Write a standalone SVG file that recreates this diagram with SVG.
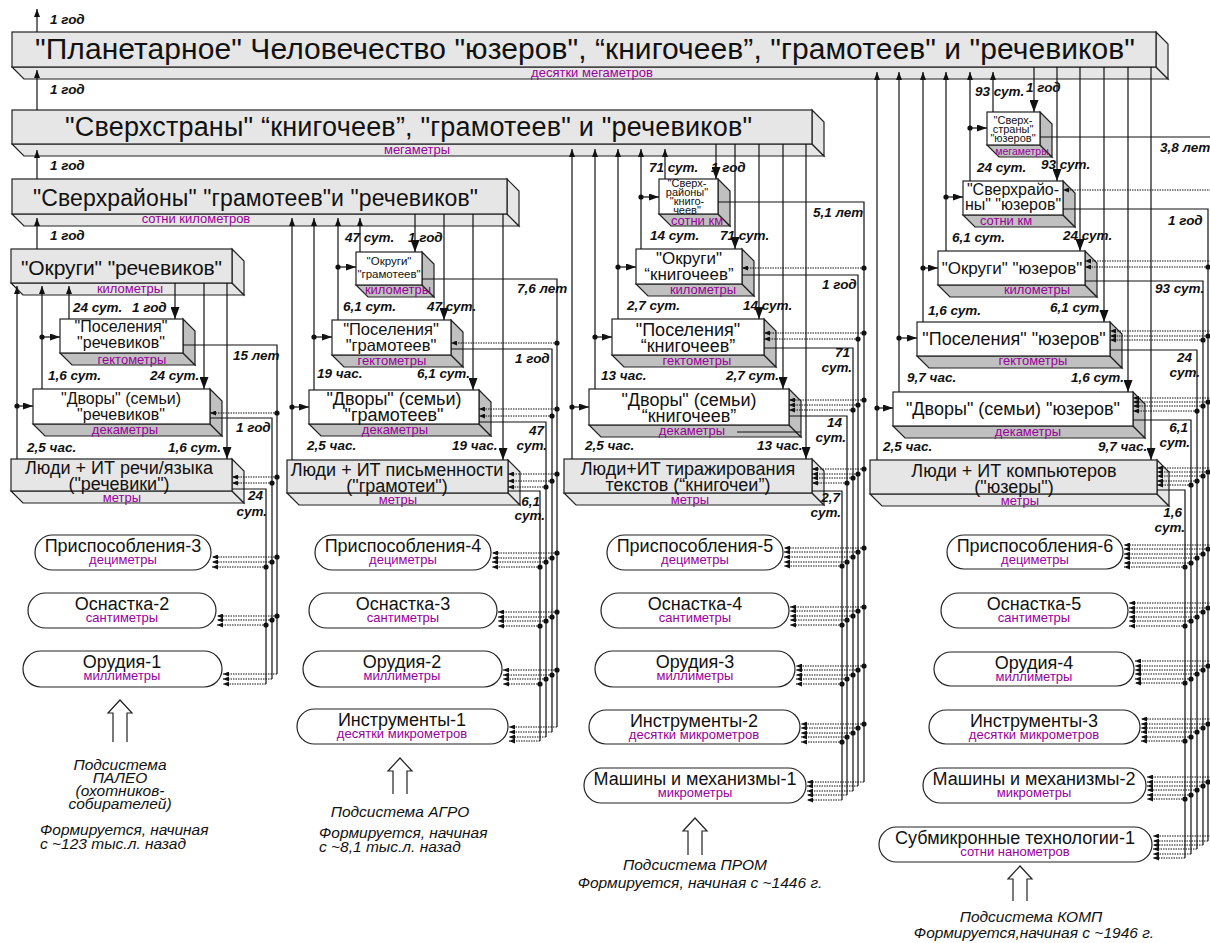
<svg xmlns="http://www.w3.org/2000/svg" width="1210" height="943" viewBox="0 0 1210 943">
<defs>
<marker id="mu" viewBox="0 0 8 6" refX="8" refY="3" markerWidth="8" markerHeight="6" markerUnits="userSpaceOnUse" orient="auto"><path d="M0,0L8,3L0,6z" fill="#111"/></marker>
<marker id="mb" viewBox="0 0 12 9" refX="12" refY="4.5" markerWidth="12" markerHeight="9" markerUnits="userSpaceOnUse" orient="auto"><path d="M0,0L12,4.5L0,9z" fill="#111"/></marker>
<marker id="mr" viewBox="0 0 10 7" refX="10" refY="3.5" markerWidth="10" markerHeight="7" markerUnits="userSpaceOnUse" orient="auto"><path d="M0,0L10,3.5L0,7z" fill="#111"/></marker>
<marker id="md" viewBox="0 0 6 5" refX="6" refY="2.5" markerWidth="6" markerHeight="5" markerUnits="userSpaceOnUse" orient="auto"><path d="M0,0L6,2.5L0,5z" fill="#111"/></marker>
</defs>
<style>
.g{fill:#e6e6e6;stroke:#222;stroke-width:1.2}
.w{fill:#fff;stroke:#222;stroke-width:1.2}
.s{fill:#c0c0c0;stroke:#222;stroke-width:1.2}
.pl{fill:#fff;stroke:#222;stroke-width:1.2}
text{font-family:"Liberation Sans",Arial,sans-serif;fill:#111}
.c{text-anchor:middle}
.un{font-size:13px;fill:#990099;text-anchor:middle}
.lb{font-size:13.5px;font-weight:bold;font-style:italic}
.e{text-anchor:end}
.ss{font-size:15.5px;font-style:italic}
.ln{stroke:#111;stroke-width:1.2;fill:none}
.up{marker-end:url(#mu)}
.dn{marker-end:url(#mb)}
.rt{marker-end:url(#mr)}
.d{stroke:#111;stroke-width:1;stroke-dasharray:1.5 1;fill:none;marker-end:url(#md)}
.dot{fill:#111}
.ha{fill:none;stroke:#222;stroke-width:1.2}
</style>
<rect x="0" y="0" width="1210" height="943" fill="#fff"/>

<!-- big level bars -->
<g id="n-planet">
<polygon class="g" points="12,67 1156,67 1168,79 24,79"/>
<polygon class="g" points="1156,32 1168,44 1168,79 1156,67"/>
<rect class="g" x="12" y="32" width="1144" height="35"/>
<text x="35" y="59" font-size="30" textLength="1100">"Планетарное" Человечество "юзеров", “книгочеев”, "грамотеев" и "речевиков"</text>
<text class="un" x="592" y="77">десятки мегаметров</text>
</g>
<g id="n-superstates">
<polygon class="g" points="12,144 812,144 824,156 24,156"/>
<polygon class="g" points="812,110 824,122 824,156 812,144"/>
<rect class="g" x="12" y="110" width="800" height="34"/>
<text x="65" y="136" font-size="27" textLength="687">"Сверхстраны" “книгочеев”, "грамотеев" и "речевиков"</text>
<text class="un" x="417" y="154">мегаметры</text>
</g>
<g id="n-superdistricts">
<polygon class="g" points="12,214 507,214 519,226 24,226"/>
<polygon class="g" points="507,179 519,191 519,226 507,214"/>
<rect class="g" x="12" y="179" width="495" height="35"/>
<text x="33" y="206" font-size="23" textLength="445">"Сверхрайоны" "грамотеев"и "речевиков"</text>
<text class="un" x="196" y="223">сотни километров</text>
</g>

<!-- column A: речевики -->
<g id="n-okr-a">
<polygon class="g" points="11,283 232,283 244,295 23,295"/>
<polygon class="g" points="232,249 244,261 244,295 232,283"/>
<rect class="g" x="11" y="249" width="221" height="34"/>
<text x="21" y="275" font-size="21" textLength="201">"Округи" "речевиков"</text>
<text class="un" x="130" y="293">километры</text>
</g>
<g id="n-pos-a">
<polygon class="s" points="60,353 183,353 195,365 72,365"/>
<polygon class="s" points="183,319 195,331 195,365 183,353"/>
<rect class="w" x="60" y="319" width="123" height="34"/>
<text class="c" x="121" y="332" font-size="16">"Поселения"</text>
<text class="c" x="121" y="348" font-size="16">"речевиков"</text>
<text class="un" x="132" y="364">гектометры</text>
</g>
<g id="n-dv-a">
<polygon class="s" points="33,424 210,424 222,436 45,436"/>
<polygon class="s" points="210,389 222,401 222,436 210,424"/>
<rect class="w" x="33" y="389" width="177" height="35"/>
<text class="c" x="121" y="404" font-size="16">"Дворы" (семьи)</text>
<text class="c" x="121" y="420" font-size="16">"речевиков"</text>
<text class="un" x="125" y="434">декаметры</text>
</g>
<g id="n-ppl-a">
<polygon class="g" points="11,491 232,491 244,503 23,503"/>
<polygon class="g" points="232,459 244,471 244,503 232,491"/>
<rect class="g" x="11" y="459" width="221" height="32"/>
<text class="c" x="119" y="474" font-size="18">Люди + ИТ речи/языка</text>
<text class="c" x="119" y="490" font-size="18">("речевики")</text>
<text class="un" x="122" y="502">метры</text>
</g>
<g id="n-prisp3"><rect class="pl" x="35" y="535" width="176" height="35" rx="17.5"/><text class="c" x="123" y="552" font-size="18">Приспособления-3</text><text class="un" x="123" y="564">дециметры</text></g>
<g id="n-osn2"><rect class="pl" x="28" y="593" width="188" height="35" rx="17.5"/><text class="c" x="122" y="610" font-size="18">Оснастка-2</text><text class="un" x="122" y="622">сантиметры</text></g>
<g id="n-orud1"><rect class="pl" x="23" y="651" width="199" height="36" rx="18"/><text class="c" x="122" y="668" font-size="18">Орудия-1</text><text class="un" x="122" y="680">миллиметры</text></g>
<g id="n-paleo">
<polyline class="ha" points="113,742 113,713 108,713 120,700 132,713 127,713 127,742"/>
<text class="ss c" x="120" y="770">Подсистема</text>
<text class="ss c" x="120" y="783">ПАЛЕО</text>
<text class="ss c" x="120" y="796">(охотников-</text>
<text class="ss c" x="120" y="809">собирателей)</text>
<text class="ss" x="40" y="835">Формируется, начиная</text>
<text class="ss" x="40" y="849">с ~123 тыс.л. назад</text>
</g>

<!-- column B: грамотеи -->
<g id="n-okr-b">
<polygon class="s" points="356,285 422,285 434,297 368,297"/>
<polygon class="s" points="422,252 434,264 434,297 422,285"/>
<rect class="w" x="356" y="252" width="66" height="33"/>
<text class="c" x="389" y="265" font-size="11.5">"Округи"</text>
<text class="c" x="389" y="278" font-size="11.5">"грамотеев"</text>
<text class="un" x="398" y="294">километры</text>
</g>
<g id="n-pos-b">
<polygon class="s" points="332,355 451,355 463,367 344,367"/>
<polygon class="s" points="451,320 463,332 463,367 451,355"/>
<rect class="w" x="332" y="320" width="119" height="35"/>
<text class="c" x="391" y="335" font-size="16.5">"Поселения"</text>
<text class="c" x="391" y="351" font-size="16.5">"грамотеев"</text>
<text class="un" x="392" y="365">гектометры</text>
</g>
<g id="n-dv-b">
<polygon class="s" points="309,424 479,424 491,436 321,436"/>
<polygon class="s" points="479,390 491,402 491,436 479,424"/>
<rect class="w" x="309" y="390" width="170" height="34"/>
<text class="c" x="394" y="405" font-size="18">"Дворы" (семьи)</text>
<text class="c" x="394" y="421" font-size="18">"грамотеев"</text>
<text class="un" x="395" y="434">декаметры</text>
</g>
<g id="n-ppl-b">
<polygon class="g" points="287,493 508,493 520,505 299,505"/>
<polygon class="g" points="508,460 520,472 520,505 508,493"/>
<rect class="g" x="287" y="460" width="221" height="33"/>
<text class="c" x="397" y="476" font-size="18">Люди + ИТ письменности</text>
<text class="c" x="397" y="492" font-size="18">("грамотеи")</text>
<text class="un" x="398" y="504">метры</text>
</g>
<g id="n-prisp4"><rect class="pl" x="315" y="535" width="176" height="35" rx="17.5"/><text class="c" x="403" y="552" font-size="18">Приспособления-4</text><text class="un" x="403" y="564">дециметры</text></g>
<g id="n-osn3"><rect class="pl" x="309" y="593" width="188" height="35" rx="17.5"/><text class="c" x="403" y="610" font-size="18">Оснастка-3</text><text class="un" x="403" y="622">сантиметры</text></g>
<g id="n-orud2"><rect class="pl" x="303" y="651" width="199" height="36" rx="18"/><text class="c" x="402" y="668" font-size="18">Орудия-2</text><text class="un" x="402" y="680">миллиметры</text></g>
<g id="n-instr1"><rect class="pl" x="297" y="709" width="211" height="35" rx="17.5"/><text class="c" x="402" y="726" font-size="18">Инструменты-1</text><text class="un" x="402" y="738">десятки микрометров</text></g>
<g id="n-agro">
<polyline class="ha" points="393,794 393,771 388,771 400,758 412,771 407,771 407,794"/>
<text class="ss c" x="400" y="817">Подсистема АГРО</text>
<text class="ss" x="319" y="838">Формируется, начиная</text>
<text class="ss" x="319" y="852">с ~8,1 тыс.л. назад</text>
</g>

<!-- column C: книгочеи -->
<g id="n-sr-c">
<polygon class="s" points="659,214 718,214 730,226 671,226"/>
<polygon class="s" points="718,179 730,191 730,226 718,214"/>
<rect class="w" x="659" y="179" width="59" height="35"/>
<text class="c" x="687" y="187" font-size="11">"Сверх-</text>
<text class="c" x="687" y="196" font-size="11">районы"</text>
<text class="c" x="687" y="205" font-size="11">"книго-</text>
<text class="c" x="687" y="214" font-size="11">чеев"</text>
<text class="un" x="697" y="225">сотни км</text>
</g>
<g id="n-okr-c">
<polygon class="s" points="636,284 742,284 754,296 648,296"/>
<polygon class="s" points="742,249 754,261 754,296 742,284"/>
<rect class="w" x="636" y="249" width="106" height="35"/>
<text class="c" x="689" y="264" font-size="17">"Округи"</text>
<text class="c" x="689" y="280" font-size="17">“книгочеев”</text>
<text class="un" x="703" y="294">километры</text>
</g>
<g id="n-pos-c">
<polygon class="s" points="612,355 764,355 776,367 624,367"/>
<polygon class="s" points="764,319 776,331 776,367 764,355"/>
<rect class="w" x="612" y="319" width="152" height="36"/>
<text class="c" x="688" y="336" font-size="18">"Поселения"</text>
<text class="c" x="688" y="352" font-size="18">“книгочеев”</text>
<text class="un" x="697" y="365">гектометры</text>
</g>
<g id="n-dv-c">
<polygon class="s" points="589,425 789,425 801,437 601,437"/>
<polygon class="s" points="789,389 801,401 801,437 789,425"/>
<rect class="w" x="589" y="389" width="200" height="36"/>
<text class="c" x="689" y="406" font-size="18">"Дворы" (семьи)</text>
<text class="c" x="689" y="422" font-size="18">“книгочеев”</text>
<text class="un" x="692" y="435">декаметры</text>
</g>
<g id="n-ppl-c">
<polygon class="g" points="564,493 812,493 824,505 576,505"/>
<polygon class="g" points="812,459 824,471 824,505 812,493"/>
<rect class="g" x="564" y="459" width="248" height="34"/>
<text class="c" x="688" y="475" font-size="18">Люди+ИТ тиражирования</text>
<text class="c" x="688" y="491" font-size="18">текстов (“книгочеи”)</text>
<text class="un" x="690" y="504">метры</text>
</g>
<g id="n-prisp5"><rect class="pl" x="607" y="535" width="176" height="35" rx="17.5"/><text class="c" x="695" y="552" font-size="18">Приспособления-5</text><text class="un" x="695" y="564">дециметры</text></g>
<g id="n-osn4"><rect class="pl" x="601" y="593" width="188" height="35" rx="17.5"/><text class="c" x="695" y="610" font-size="18">Оснастка-4</text><text class="un" x="695" y="622">сантиметры</text></g>
<g id="n-orud3"><rect class="pl" x="595" y="651" width="200" height="36" rx="18"/><text class="c" x="695" y="668" font-size="18">Орудия-3</text><text class="un" x="695" y="680">миллиметры</text></g>
<g id="n-instr2"><rect class="pl" x="589" y="710" width="211" height="34" rx="17"/><text class="c" x="694" y="727" font-size="18">Инструменты-2</text><text class="un" x="694" y="739">десятки микрометров</text></g>
<g id="n-mash1"><rect class="pl" x="584" y="768" width="222" height="35" rx="17.5"/><text class="c" x="695" y="785" font-size="18">Машины и механизмы-1</text><text class="un" x="695" y="797">микрометры</text></g>
<g id="n-prom">
<polyline class="ha" points="688,855 688,831 683,831 695,818 707,831 702,831 702,855"/>
<text class="ss c" x="695" y="870">Подсистема ПРОМ</text>
<text class="ss c" x="700" y="888">Формируется, начиная с ~1446 г.</text>
</g>

<!-- column D: юзеры -->
<g id="n-ss-d">
<polygon class="s" points="987,145 1040,145 1052,157 999,157"/>
<polygon class="s" points="1040,112 1052,124 1052,157 1040,145"/>
<rect class="w" x="987" y="112" width="53" height="33"/>
<text class="c" x="1013" y="124" font-size="11">"Сверх-</text>
<text class="c" x="1013" y="133" font-size="11">страны"</text>
<text class="c" x="1013" y="142" font-size="11">"юзеров"</text>
<text class="un" x="1022" y="155" style="font-size:10.5px">мегаметры</text>
</g>
<g id="n-sr-d">
<polygon class="s" points="963,215 1063,215 1075,227 975,227"/>
<polygon class="s" points="1063,181 1075,193 1075,227 1063,215"/>
<rect class="w" x="963" y="181" width="100" height="34"/>
<text class="c" x="1013" y="195" font-size="16">"Сверхрайо-</text>
<text class="c" x="1013" y="210" font-size="16">ны" "юзеров"</text>
<text class="un" x="1006" y="225">сотни км</text>
</g>
<g id="n-okr-d">
<polygon class="s" points="938,285 1085,285 1097,297 950,297"/>
<polygon class="s" points="1085,251 1097,263 1097,297 1085,285"/>
<rect class="w" x="938" y="251" width="147" height="34"/>
<text class="c" x="1012" y="274" font-size="17">"Округи" "юзеров"</text>
<text class="un" x="1037" y="294">километры</text>
</g>
<g id="n-pos-d">
<polygon class="s" points="917,356 1110,356 1122,368 929,368"/>
<polygon class="s" points="1110,322 1122,334 1122,368 1110,356"/>
<rect class="w" x="917" y="322" width="193" height="34"/>
<text class="c" x="1014" y="345" font-size="18">"Поселения" "юзеров"</text>
<text class="un" x="1033" y="365">гектометры</text>
</g>
<g id="n-dv-d">
<polygon class="s" points="893,426 1133,426 1145,438 905,438"/>
<polygon class="s" points="1133,392 1145,404 1145,438 1133,426"/>
<rect class="w" x="893" y="392" width="240" height="34"/>
<text class="c" x="1013" y="415" font-size="18">"Дворы" (семьи) "юзеров"</text>
<text class="un" x="1028" y="436">декаметры</text>
</g>
<g id="n-ppl-d">
<polygon class="g" points="870,494 1157,494 1169,506 882,506"/>
<polygon class="g" points="1157,460 1169,472 1169,506 1157,494"/>
<rect class="g" x="870" y="460" width="287" height="34"/>
<text class="c" x="1014" y="477" font-size="18">Люди + ИТ компьютеров</text>
<text class="c" x="1014" y="493" font-size="18">("юзеры")</text>
<text class="un" x="1020" y="505">метры</text>
</g>
<g id="n-prisp6"><rect class="pl" x="947" y="535" width="176" height="34" rx="17"/><text class="c" x="1035" y="552" font-size="18">Приспособления-6</text><text class="un" x="1035" y="564">дециметры</text></g>
<g id="n-osn5"><rect class="pl" x="941" y="593" width="187" height="35" rx="17.5"/><text class="c" x="1034" y="610" font-size="18">Оснастка-5</text><text class="un" x="1034" y="622">сантиметры</text></g>
<g id="n-orud4"><rect class="pl" x="934" y="652" width="200" height="34" rx="17"/><text class="c" x="1034" y="669" font-size="18">Орудия-4</text><text class="un" x="1034" y="681">миллиметры</text></g>
<g id="n-instr3"><rect class="pl" x="929" y="710" width="211" height="34" rx="17"/><text class="c" x="1034" y="727" font-size="18">Инструменты-3</text><text class="un" x="1034" y="739">десятки микрометров</text></g>
<g id="n-mash2"><rect class="pl" x="923" y="768" width="223" height="35" rx="17.5"/><text class="c" x="1034" y="785" font-size="18">Машины и механизмы-2</text><text class="un" x="1034" y="797">микрометры</text></g>
<g id="n-sub1"><rect class="pl" x="879" y="827" width="273" height="35" rx="17.5"/><text class="c" x="1015" y="844" font-size="18">Субмикронные технологии-1</text><text class="un" x="1015" y="856">сотни нанометров</text></g>
<g id="n-komp">
<polyline class="ha" points="1013,901 1013,879 1008,879 1020,866 1032,879 1027,879 1027,901"/>
<text class="ss c" x="1031" y="922">Подсистема КОМП</text>
<text class="ss c" x="1034" y="938">Формируется,начиная с ~1946 г.</text>
</g>

<!-- connectors -->
<g id="connectors">
<line class="ln up" x1="37" y1="249" x2="37" y2="218"/>
<line class="ln up" x1="37" y1="179" x2="37" y2="150"/>
<line class="ln up" x1="37" y1="110" x2="37" y2="70"/>
<line class="ln up" x1="37" y1="32" x2="37" y2="9"/>

<line class="ln up" x1="17" y1="459" x2="17" y2="286"/>
<line class="ln up" x1="42" y1="389" x2="42" y2="286"/>
<line class="ln up" x1="69" y1="319" x2="69" y2="286"/>
<line class="ln rt" x1="17" y1="406" x2="33" y2="406"/>
<line class="ln rt" x1="42" y1="337" x2="60" y2="337"/>
<circle class="dot" cx="17" cy="406" r="2.6"/><circle class="dot" cx="42" cy="337" r="2.6"/>
<line class="ln dn" x1="175" y1="283" x2="175" y2="319"/>
<line class="ln dn" x1="204" y1="283" x2="204" y2="389"/>
<line class="ln dn" x1="227" y1="283" x2="227" y2="459"/>
<path class="ln" d="M183,345H277V674"/>
<path class="ln" d="M210,418H272V679"/>
<path class="ln" d="M232,489H266V684"/>
<line class="d" x1="277" y1="674" x2="223" y2="674"/>
<line class="d" x1="272" y1="679" x2="223" y2="679"/>
<line class="d" x1="266" y1="684" x2="223" y2="684"/>
<line class="d" x1="277" y1="413" x2="210" y2="413"/>
<line class="d" x1="277" y1="477" x2="232" y2="477"/>
<line class="d" x1="277" y1="557" x2="212" y2="557"/>
<line class="d" x1="277" y1="616" x2="217" y2="616"/>
<line class="d" x1="272" y1="483" x2="232" y2="483"/>
<line class="d" x1="272" y1="562" x2="212" y2="562"/>
<line class="d" x1="272" y1="620" x2="217" y2="620"/>
<line class="d" x1="266" y1="567" x2="212" y2="567"/>
<line class="d" x1="266" y1="625" x2="217" y2="625"/>
<circle class="dot" cx="277" cy="413" r="2.6"/><circle class="dot" cx="277" cy="477" r="2.6"/><circle class="dot" cx="277" cy="557" r="2.6"/><circle class="dot" cx="277" cy="616" r="2.6"/>
<circle class="dot" cx="272" cy="483" r="2.6"/><circle class="dot" cx="272" cy="562" r="2.6"/><circle class="dot" cx="272" cy="620" r="2.6"/>
<circle class="dot" cx="266" cy="567" r="2.6"/><circle class="dot" cx="266" cy="625" r="2.6"/>

<line class="ln up" x1="292" y1="460" x2="292" y2="218"/>
<line class="ln up" x1="314" y1="390" x2="314" y2="218"/>
<line class="ln up" x1="338" y1="320" x2="338" y2="218"/>
<line class="ln up" x1="360" y1="252" x2="360" y2="218"/>
<line class="ln rt" x1="292" y1="407" x2="309" y2="407"/>
<line class="ln rt" x1="314" y1="337" x2="332" y2="337"/>
<line class="ln rt" x1="338" y1="267" x2="356" y2="267"/>
<circle class="dot" cx="292" cy="407" r="2.6"/><circle class="dot" cx="314" cy="337" r="2.6"/><circle class="dot" cx="338" cy="267" r="2.6"/>
<line class="ln dn" x1="415" y1="214" x2="415" y2="252"/>
<line class="ln dn" x1="444" y1="214" x2="444" y2="320"/>
<line class="ln dn" x1="473" y1="214" x2="473" y2="390"/>
<line class="ln dn" x1="503" y1="214" x2="503" y2="460"/>
<path class="ln" d="M422,279H557V727"/>
<path class="ln" d="M451,349H552V732"/>
<path class="ln" d="M479,422H546V737"/>
<path class="ln" d="M508,491H540V741"/>
<line class="d" x1="557" y1="727" x2="509" y2="727"/>
<line class="d" x1="552" y1="732" x2="509" y2="732"/>
<line class="d" x1="546" y1="737" x2="509" y2="737"/>
<line class="d" x1="540" y1="741" x2="509" y2="741"/>
<line class="d" x1="557" y1="343" x2="451" y2="343"/>
<line class="d" x1="557" y1="409" x2="479" y2="409"/>
<line class="d" x1="557" y1="474" x2="508" y2="474"/>
<line class="d" x1="557" y1="553" x2="492" y2="553"/>
<line class="d" x1="557" y1="612" x2="498" y2="612"/>
<line class="d" x1="557" y1="670" x2="503" y2="670"/>
<line class="d" x1="552" y1="416" x2="479" y2="416"/>
<line class="d" x1="552" y1="481" x2="508" y2="481"/>
<line class="d" x1="552" y1="558" x2="492" y2="558"/>
<line class="d" x1="552" y1="617" x2="498" y2="617"/>
<line class="d" x1="552" y1="675" x2="503" y2="675"/>
<line class="d" x1="546" y1="487" x2="508" y2="487"/>
<line class="d" x1="546" y1="562" x2="492" y2="562"/>
<line class="d" x1="546" y1="621" x2="498" y2="621"/>
<line class="d" x1="546" y1="679" x2="503" y2="679"/>
<line class="d" x1="540" y1="567" x2="492" y2="567"/>
<line class="d" x1="540" y1="626" x2="498" y2="626"/>
<line class="d" x1="540" y1="684" x2="503" y2="684"/>
<circle class="dot" cx="557" cy="343" r="2.6"/><circle class="dot" cx="557" cy="409" r="2.6"/><circle class="dot" cx="557" cy="474" r="2.6"/><circle class="dot" cx="557" cy="553" r="2.6"/><circle class="dot" cx="557" cy="612" r="2.6"/><circle class="dot" cx="557" cy="670" r="2.6"/>
<circle class="dot" cx="552" cy="416" r="2.6"/><circle class="dot" cx="552" cy="481" r="2.6"/><circle class="dot" cx="552" cy="558" r="2.6"/><circle class="dot" cx="552" cy="617" r="2.6"/><circle class="dot" cx="552" cy="675" r="2.6"/>
<circle class="dot" cx="546" cy="487" r="2.6"/><circle class="dot" cx="546" cy="562" r="2.6"/><circle class="dot" cx="546" cy="621" r="2.6"/><circle class="dot" cx="546" cy="679" r="2.6"/>
<circle class="dot" cx="540" cy="567" r="2.6"/><circle class="dot" cx="540" cy="626" r="2.6"/><circle class="dot" cx="540" cy="684" r="2.6"/>

<line class="ln up" x1="572" y1="459" x2="572" y2="149"/>
<line class="ln up" x1="595" y1="389" x2="595" y2="149"/>
<line class="ln up" x1="618" y1="319" x2="618" y2="149"/>
<line class="ln up" x1="641" y1="249" x2="641" y2="149"/>
<line class="ln up" x1="665" y1="179" x2="665" y2="149"/>
<line class="ln rt" x1="572" y1="407" x2="589" y2="407"/>
<line class="ln rt" x1="595" y1="337" x2="612" y2="337"/>
<line class="ln rt" x1="618" y1="267" x2="636" y2="267"/>
<line class="ln rt" x1="641" y1="197" x2="659" y2="197"/>
<circle class="dot" cx="572" cy="407" r="2.6"/><circle class="dot" cx="595" cy="337" r="2.6"/><circle class="dot" cx="618" cy="267" r="2.6"/><circle class="dot" cx="641" cy="197" r="2.6"/>
<line class="ln dn" x1="716" y1="144" x2="716" y2="179"/>
<line class="ln dn" x1="735" y1="144" x2="735" y2="249"/>
<line class="ln dn" x1="759" y1="144" x2="759" y2="319"/>
<line class="ln dn" x1="783" y1="144" x2="783" y2="389"/>
<line class="ln dn" x1="806" y1="144" x2="806" y2="459"/>
<path class="ln" d="M718,202H864V782"/>
<path class="ln" d="M742,275H858V786"/>
<path class="ln" d="M764,348H853V791"/>
<path class="ln" d="M789,416H847V795"/>
<path class="ln" d="M812,491H842V800"/>
<line class="ln" x1="737" y1="432" x2="801" y2="432"/>
<line class="d" x1="864" y1="782" x2="807" y2="782"/>
<line class="d" x1="858" y1="786" x2="807" y2="786"/>
<line class="d" x1="853" y1="791" x2="807" y2="791"/>
<line class="d" x1="847" y1="795" x2="807" y2="795"/>
<line class="d" x1="842" y1="800" x2="807" y2="800"/>
<line class="d" x1="864" y1="268" x2="742" y2="268"/>
<line class="d" x1="864" y1="333" x2="764" y2="333"/>
<line class="d" x1="864" y1="400" x2="789" y2="400"/>
<line class="d" x1="864" y1="469" x2="812" y2="469"/>
<line class="d" x1="864" y1="548" x2="784" y2="548"/>
<line class="d" x1="864" y1="607" x2="790" y2="607"/>
<line class="d" x1="864" y1="666" x2="796" y2="666"/>
<line class="d" x1="864" y1="724" x2="801" y2="724"/>
<line class="d" x1="858" y1="339" x2="764" y2="339"/>
<line class="d" x1="858" y1="405" x2="789" y2="405"/>
<line class="d" x1="858" y1="474" x2="812" y2="474"/>
<line class="d" x1="858" y1="552" x2="784" y2="552"/>
<line class="d" x1="858" y1="611" x2="790" y2="611"/>
<line class="d" x1="858" y1="670" x2="796" y2="670"/>
<line class="d" x1="858" y1="728" x2="801" y2="728"/>
<line class="d" x1="853" y1="410" x2="789" y2="410"/>
<line class="d" x1="853" y1="478" x2="812" y2="478"/>
<line class="d" x1="853" y1="557" x2="784" y2="557"/>
<line class="d" x1="853" y1="616" x2="790" y2="616"/>
<line class="d" x1="853" y1="675" x2="796" y2="675"/>
<line class="d" x1="853" y1="733" x2="801" y2="733"/>
<line class="d" x1="847" y1="483" x2="812" y2="483"/>
<line class="d" x1="847" y1="562" x2="784" y2="562"/>
<line class="d" x1="847" y1="620" x2="790" y2="620"/>
<line class="d" x1="847" y1="679" x2="796" y2="679"/>
<line class="d" x1="847" y1="737" x2="801" y2="737"/>
<line class="d" x1="842" y1="566" x2="784" y2="566"/>
<line class="d" x1="842" y1="625" x2="790" y2="625"/>
<line class="d" x1="842" y1="684" x2="796" y2="684"/>
<line class="d" x1="842" y1="742" x2="801" y2="742"/>
<circle class="dot" cx="864" cy="268" r="2.6"/><circle class="dot" cx="864" cy="333" r="2.6"/><circle class="dot" cx="864" cy="400" r="2.6"/><circle class="dot" cx="864" cy="469" r="2.6"/><circle class="dot" cx="864" cy="548" r="2.6"/><circle class="dot" cx="864" cy="607" r="2.6"/><circle class="dot" cx="864" cy="666" r="2.6"/><circle class="dot" cx="864" cy="724" r="2.6"/>
<circle class="dot" cx="858" cy="339" r="2.6"/><circle class="dot" cx="858" cy="405" r="2.6"/><circle class="dot" cx="858" cy="474" r="2.6"/><circle class="dot" cx="858" cy="552" r="2.6"/><circle class="dot" cx="858" cy="611" r="2.6"/><circle class="dot" cx="858" cy="670" r="2.6"/><circle class="dot" cx="858" cy="728" r="2.6"/>
<circle class="dot" cx="853" cy="410" r="2.6"/><circle class="dot" cx="853" cy="478" r="2.6"/><circle class="dot" cx="853" cy="557" r="2.6"/><circle class="dot" cx="853" cy="616" r="2.6"/><circle class="dot" cx="853" cy="675" r="2.6"/><circle class="dot" cx="853" cy="733" r="2.6"/>
<circle class="dot" cx="847" cy="483" r="2.6"/><circle class="dot" cx="847" cy="562" r="2.6"/><circle class="dot" cx="847" cy="620" r="2.6"/><circle class="dot" cx="847" cy="679" r="2.6"/><circle class="dot" cx="847" cy="737" r="2.6"/>
<circle class="dot" cx="842" cy="566" r="2.6"/><circle class="dot" cx="842" cy="625" r="2.6"/><circle class="dot" cx="842" cy="684" r="2.6"/><circle class="dot" cx="842" cy="742" r="2.6"/>

<line class="ln up" x1="877" y1="460" x2="877" y2="72"/>
<line class="ln up" x1="899" y1="392" x2="899" y2="72"/>
<line class="ln up" x1="923" y1="322" x2="923" y2="72"/>
<line class="ln up" x1="946" y1="251" x2="946" y2="72"/>
<line class="ln up" x1="970" y1="181" x2="970" y2="72"/>
<line class="ln up" x1="993" y1="112" x2="993" y2="72"/>
<line class="ln rt" x1="877" y1="408" x2="893" y2="408"/>
<line class="ln rt" x1="899" y1="338" x2="917" y2="338"/>
<line class="ln rt" x1="923" y1="268" x2="938" y2="268"/>
<line class="ln rt" x1="946" y1="197" x2="963" y2="197"/>
<line class="ln rt" x1="970" y1="128" x2="987" y2="128"/>
<circle class="dot" cx="877" cy="408" r="2.6"/><circle class="dot" cx="899" cy="338" r="2.6"/><circle class="dot" cx="923" cy="268" r="2.6"/><circle class="dot" cx="946" cy="197" r="2.6"/><circle class="dot" cx="970" cy="128" r="2.6"/>
<line class="ln dn" x1="1034" y1="67" x2="1034" y2="112"/>
<line class="ln dn" x1="1057" y1="67" x2="1057" y2="181"/>
<line class="ln dn" x1="1080" y1="67" x2="1080" y2="251"/>
<line class="ln dn" x1="1104" y1="67" x2="1104" y2="322"/>
<line class="ln dn" x1="1128" y1="67" x2="1128" y2="392"/>
<line class="ln dn" x1="1151" y1="67" x2="1151" y2="460"/>
<path class="ln" d="M1040,137H1216V836"/>
<path class="ln" d="M1063,209H1208V841"/>
<path class="ln" d="M1085,281H1203V845"/>
<path class="ln" d="M1110,350H1197V849"/>
<path class="ln" d="M1133,420H1191V854"/>
<path class="ln" d="M1157,490H1185V858"/>
<line class="d" x1="1216" y1="836" x2="1153" y2="836"/>
<line class="d" x1="1208" y1="841" x2="1153" y2="841"/>
<line class="d" x1="1203" y1="845" x2="1153" y2="845"/>
<line class="d" x1="1197" y1="849" x2="1153" y2="849"/>
<line class="d" x1="1191" y1="854" x2="1153" y2="854"/>
<line class="d" x1="1185" y1="858" x2="1153" y2="858"/>
<line class="d" x1="1216" y1="190" x2="1063" y2="190"/>
<line class="d" x1="1216" y1="261" x2="1085" y2="261"/>
<line class="d" x1="1216" y1="331" x2="1110" y2="331"/>
<line class="d" x1="1216" y1="398" x2="1133" y2="398"/>
<line class="d" x1="1216" y1="468" x2="1157" y2="468"/>
<line class="d" x1="1216" y1="545" x2="1124" y2="545"/>
<line class="d" x1="1216" y1="603" x2="1129" y2="603"/>
<line class="d" x1="1216" y1="661" x2="1135" y2="661"/>
<line class="d" x1="1216" y1="719" x2="1141" y2="719"/>
<line class="d" x1="1216" y1="777" x2="1147" y2="777"/>
<line class="d" x1="1208" y1="267" x2="1085" y2="267"/>
<line class="d" x1="1208" y1="336" x2="1110" y2="336"/>
<line class="d" x1="1208" y1="402" x2="1133" y2="402"/>
<line class="d" x1="1208" y1="472" x2="1157" y2="472"/>
<line class="d" x1="1208" y1="549" x2="1124" y2="549"/>
<line class="d" x1="1208" y1="608" x2="1129" y2="608"/>
<line class="d" x1="1208" y1="666" x2="1135" y2="666"/>
<line class="d" x1="1208" y1="724" x2="1141" y2="724"/>
<line class="d" x1="1208" y1="782" x2="1147" y2="782"/>
<line class="d" x1="1203" y1="340" x2="1110" y2="340"/>
<line class="d" x1="1203" y1="406" x2="1133" y2="406"/>
<line class="d" x1="1203" y1="476" x2="1157" y2="476"/>
<line class="d" x1="1203" y1="554" x2="1124" y2="554"/>
<line class="d" x1="1203" y1="612" x2="1129" y2="612"/>
<line class="d" x1="1203" y1="670" x2="1135" y2="670"/>
<line class="d" x1="1203" y1="728" x2="1141" y2="728"/>
<line class="d" x1="1203" y1="786" x2="1147" y2="786"/>
<line class="d" x1="1197" y1="411" x2="1133" y2="411"/>
<line class="d" x1="1197" y1="481" x2="1157" y2="481"/>
<line class="d" x1="1197" y1="558" x2="1124" y2="558"/>
<line class="d" x1="1197" y1="617" x2="1129" y2="617"/>
<line class="d" x1="1197" y1="674" x2="1135" y2="674"/>
<line class="d" x1="1197" y1="732" x2="1141" y2="732"/>
<line class="d" x1="1197" y1="790" x2="1147" y2="790"/>
<line class="d" x1="1191" y1="485" x2="1157" y2="485"/>
<line class="d" x1="1191" y1="563" x2="1124" y2="563"/>
<line class="d" x1="1191" y1="621" x2="1129" y2="621"/>
<line class="d" x1="1191" y1="679" x2="1135" y2="679"/>
<line class="d" x1="1191" y1="737" x2="1141" y2="737"/>
<line class="d" x1="1191" y1="795" x2="1147" y2="795"/>
<line class="d" x1="1185" y1="567" x2="1124" y2="567"/>
<line class="d" x1="1185" y1="626" x2="1129" y2="626"/>
<line class="d" x1="1185" y1="683" x2="1135" y2="683"/>
<line class="d" x1="1185" y1="741" x2="1141" y2="741"/>
<line class="d" x1="1185" y1="799" x2="1147" y2="799"/>
<circle class="dot" cx="1208" cy="267" r="2.6"/><circle class="dot" cx="1208" cy="336" r="2.6"/><circle class="dot" cx="1208" cy="402" r="2.6"/><circle class="dot" cx="1208" cy="472" r="2.6"/><circle class="dot" cx="1208" cy="549" r="2.6"/><circle class="dot" cx="1208" cy="608" r="2.6"/><circle class="dot" cx="1208" cy="666" r="2.6"/><circle class="dot" cx="1208" cy="724" r="2.6"/><circle class="dot" cx="1208" cy="782" r="2.6"/>
<circle class="dot" cx="1203" cy="340" r="2.6"/><circle class="dot" cx="1203" cy="406" r="2.6"/><circle class="dot" cx="1203" cy="476" r="2.6"/><circle class="dot" cx="1203" cy="554" r="2.6"/><circle class="dot" cx="1203" cy="612" r="2.6"/><circle class="dot" cx="1203" cy="670" r="2.6"/><circle class="dot" cx="1203" cy="728" r="2.6"/><circle class="dot" cx="1203" cy="786" r="2.6"/>
<circle class="dot" cx="1197" cy="411" r="2.6"/><circle class="dot" cx="1197" cy="481" r="2.6"/><circle class="dot" cx="1197" cy="558" r="2.6"/><circle class="dot" cx="1197" cy="617" r="2.6"/><circle class="dot" cx="1197" cy="674" r="2.6"/><circle class="dot" cx="1197" cy="732" r="2.6"/><circle class="dot" cx="1197" cy="790" r="2.6"/>
<circle class="dot" cx="1191" cy="485" r="2.6"/><circle class="dot" cx="1191" cy="563" r="2.6"/><circle class="dot" cx="1191" cy="621" r="2.6"/><circle class="dot" cx="1191" cy="679" r="2.6"/><circle class="dot" cx="1191" cy="737" r="2.6"/><circle class="dot" cx="1191" cy="795" r="2.6"/>
<circle class="dot" cx="1185" cy="567" r="2.6"/><circle class="dot" cx="1185" cy="626" r="2.6"/><circle class="dot" cx="1185" cy="683" r="2.6"/><circle class="dot" cx="1185" cy="741" r="2.6"/><circle class="dot" cx="1185" cy="799" r="2.6"/>
</g>

<g id="labels">
<text class="lb" x="50" y="24">1 год</text>
<text class="lb" x="50" y="94">1 год</text>
<text class="lb" x="50" y="170">1 год</text>
<text class="lb" x="50" y="240">1 год</text>
<text class="lb" x="73" y="312">24 сут.</text>
<text class="lb" x="132" y="312">1 год</text>
<text class="lb" x="48" y="380">1,6 сут.</text>
<text class="lb" x="150" y="380">24 сут.</text>
<text class="lb" x="27" y="452">2,5 час.</text>
<text class="lb" x="168" y="452">1,6 сут.</text>
<text class="lb" x="233" y="360">15 лет</text>
<text class="lb" x="236" y="432">1 год</text>
<text class="lb e" x="263" y="500">24</text>
<text class="lb e" x="267" y="516">сут.</text>

<text class="lb" x="345" y="242">47 сут.</text>
<text class="lb" x="408" y="242">1 год</text>
<text class="lb" x="343" y="311">6,1 сут.</text>
<text class="lb" x="427" y="311">47 сут.</text>
<text class="lb" x="317" y="378">19 час.</text>
<text class="lb" x="417" y="378">6,1 сут.</text>
<text class="lb" x="307" y="450">2,5 час.</text>
<text class="lb" x="452" y="450">19 час.</text>
<text class="lb" x="517" y="293">7,6 лет</text>
<text class="lb" x="515" y="363">1 год</text>
<text class="lb e" x="544" y="435">47</text>
<text class="lb e" x="547" y="450">сут.</text>
<text class="lb e" x="540" y="506">6,1</text>
<text class="lb e" x="545" y="520">сут.</text>

<text class="lb" x="649" y="172">71 сут.</text>
<text class="lb" x="711" y="172">1 год</text>
<text class="lb" x="650" y="240">14 сут.</text>
<text class="lb" x="720" y="240">71 сут.</text>
<text class="lb" x="627" y="310">2,7 сут.</text>
<text class="lb" x="743" y="310">14 сут.</text>
<text class="lb" x="601" y="380">13 час.</text>
<text class="lb" x="726" y="380">2,7 сут.</text>
<text class="lb" x="585" y="450">2,5 час.</text>
<text class="lb" x="757" y="450">13 час.</text>
<text class="lb" x="813" y="217">5,1 лет</text>
<text class="lb" x="822" y="289">1 год</text>
<text class="lb e" x="850" y="357">71</text>
<text class="lb e" x="852" y="372">сут.</text>
<text class="lb e" x="842" y="427">14</text>
<text class="lb e" x="846" y="442">сут.</text>
<text class="lb e" x="840" y="502">2,7</text>
<text class="lb e" x="841" y="517">сут.</text>

<text class="lb" x="975" y="96">93 сут.</text>
<text class="lb" x="1026" y="92">1 год</text>
<text class="lb" x="977" y="172">24 сут.</text>
<text class="lb" x="1041" y="169">93 сут.</text>
<text class="lb" x="952" y="242">6,1 сут.</text>
<text class="lb" x="1063" y="240">24 сут.</text>
<text class="lb" x="928" y="315">1,6 сут.</text>
<text class="lb" x="1050" y="312">6,1 сут.</text>
<text class="lb" x="907" y="382">9,7 час.</text>
<text class="lb" x="1071" y="382">1,6 сут.</text>
<text class="lb" x="883" y="451">2,5 час.</text>
<text class="lb" x="1098" y="451">9,7 час.</text>
<text class="lb" x="1160" y="152">3,8 лет</text>
<text class="lb" x="1168" y="225">1 год</text>
<text class="lb" x="1155" y="293">93 сут.</text>
<text class="lb e" x="1192" y="362">24</text>
<text class="lb e" x="1200" y="377">сут.</text>
<text class="lb e" x="1188" y="432">6,1</text>
<text class="lb e" x="1190" y="447">сут.</text>
<text class="lb e" x="1182" y="517">1,6</text>
<text class="lb e" x="1185" y="532">сут.</text>
</g>
</svg>
